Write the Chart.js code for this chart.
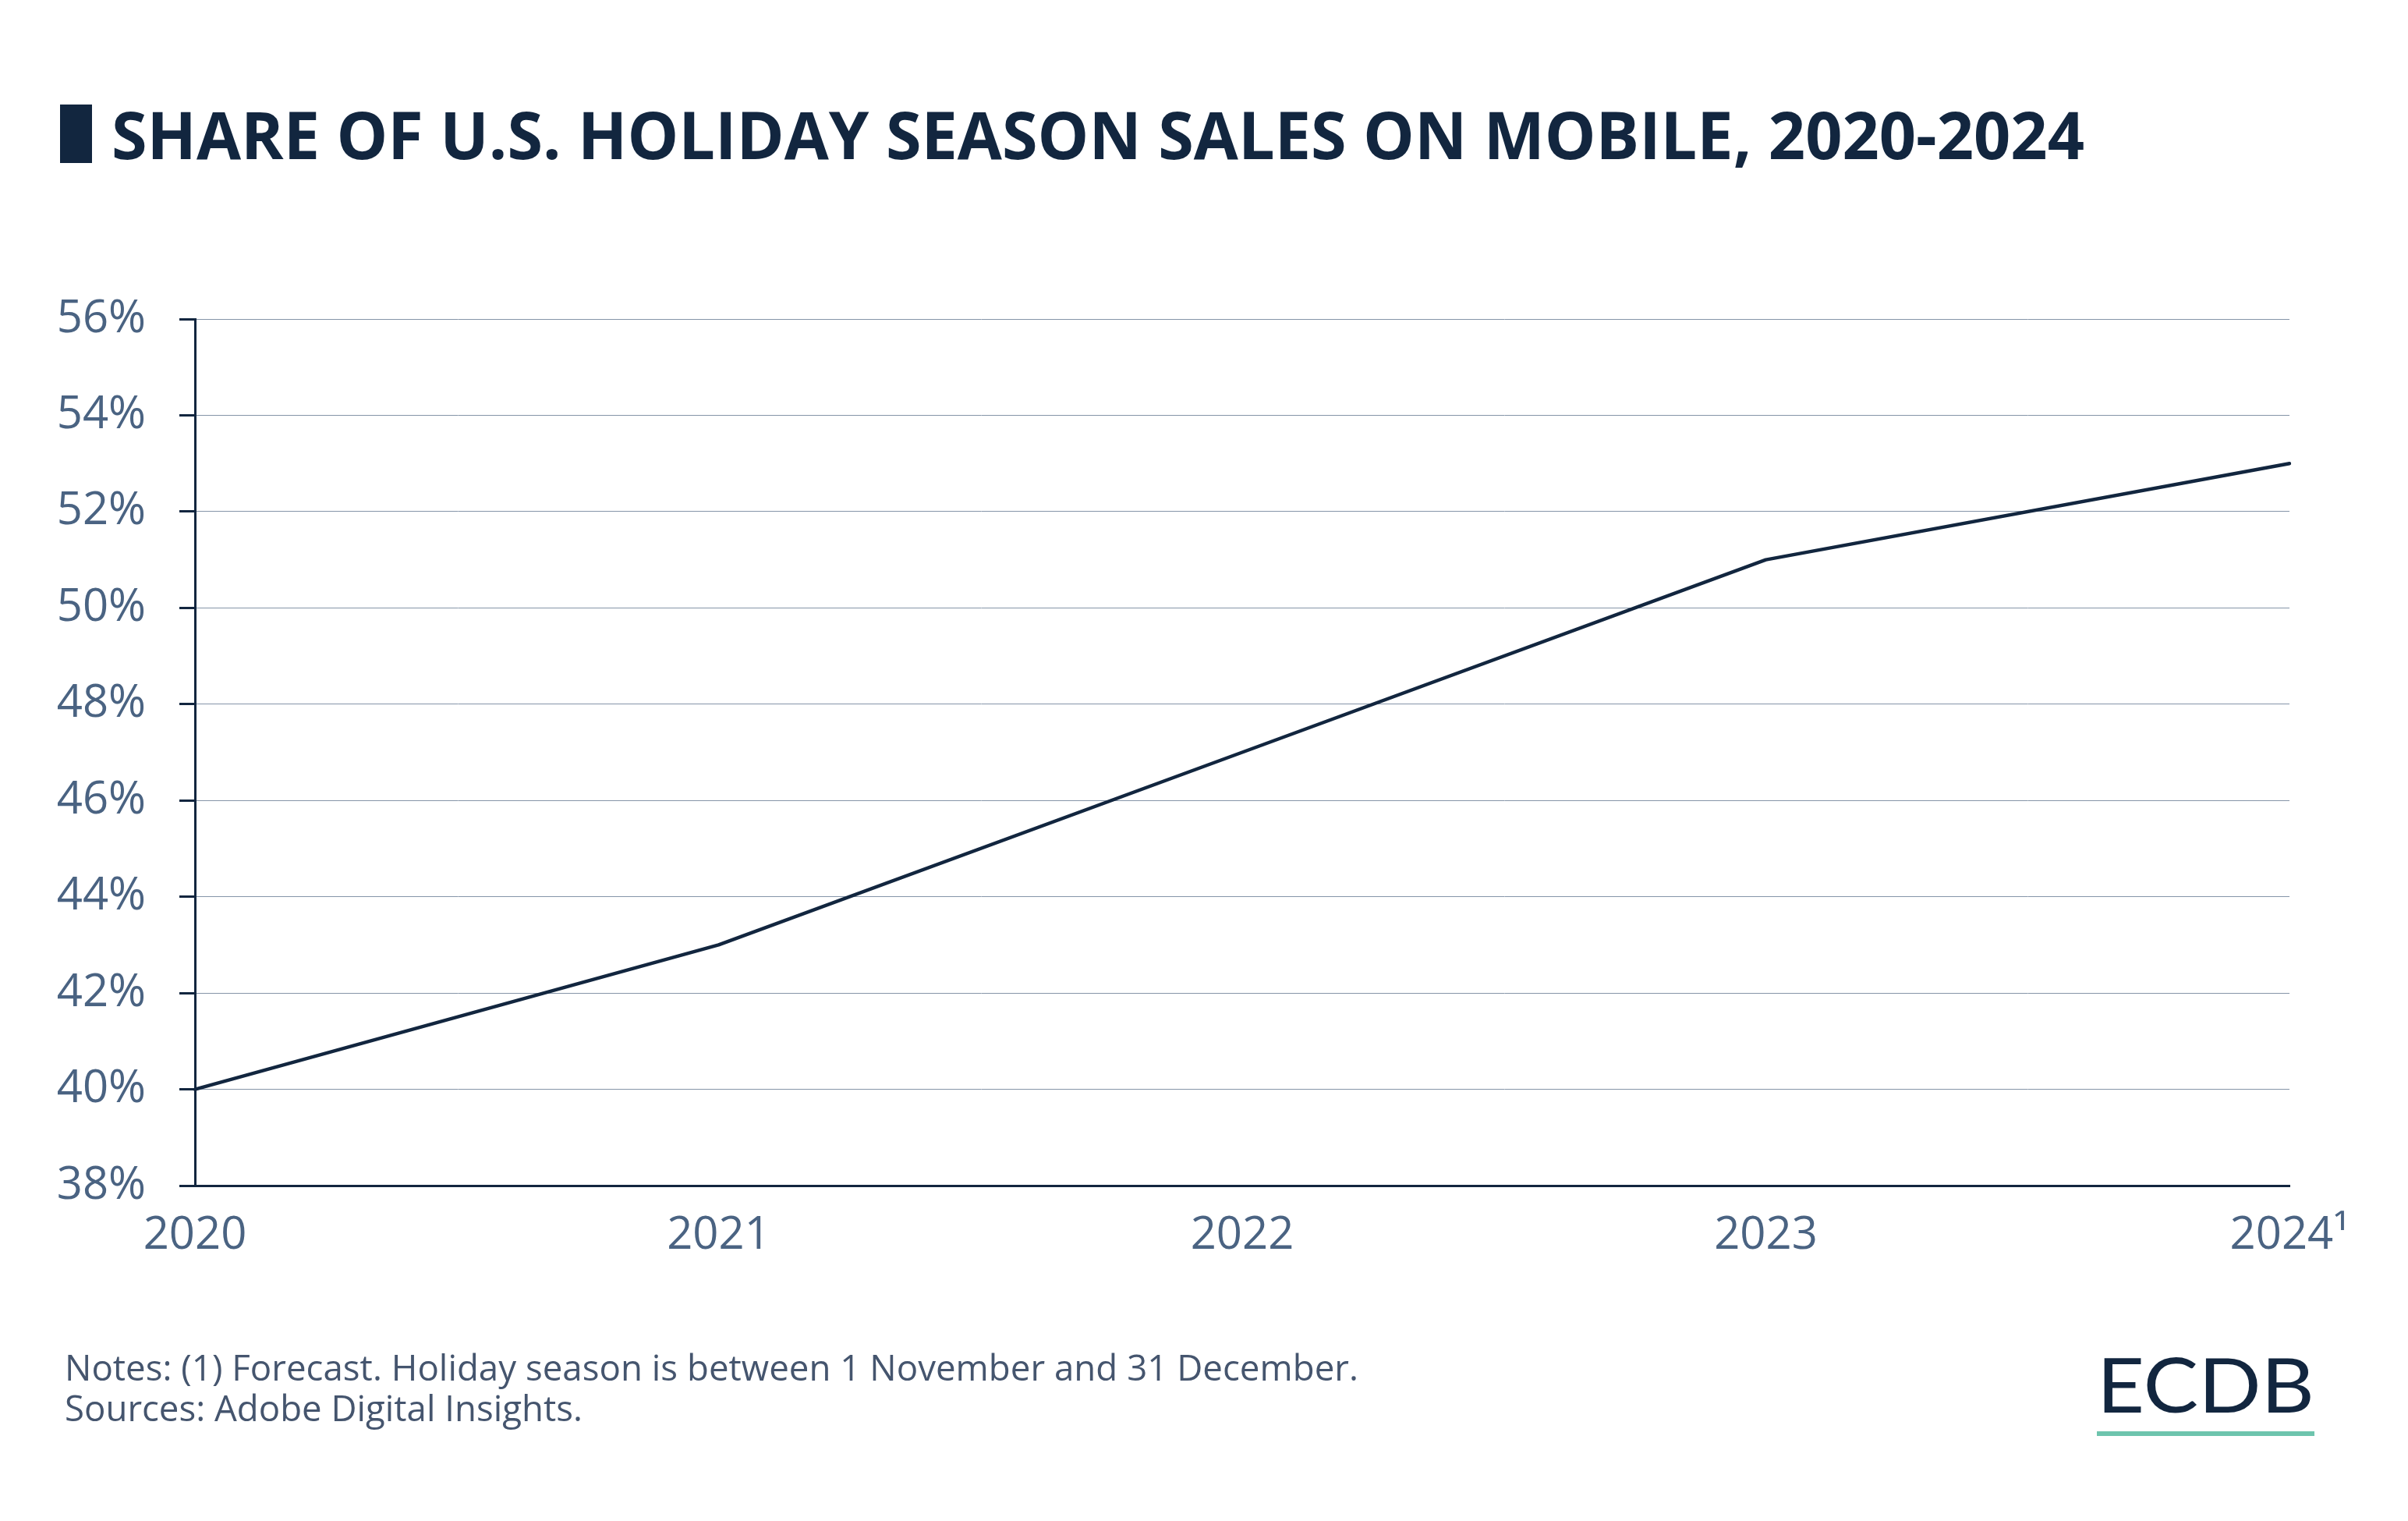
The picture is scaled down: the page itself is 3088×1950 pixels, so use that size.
<!DOCTYPE html>
<html>
<head>
<meta charset="utf-8">
<title>Share of U.S. Holiday Season Sales on Mobile, 2020-2024</title>
<script src="https://cdn.jsdelivr.net/npm/chart.js@4"></script>
<style>
  html, body { margin: 0; padding: 0; background: #ffffff; }
  #wrap { position: relative; width: 3088px; height: 1950px; overflow: hidden; }
  #chart { position: absolute; left: 0; top: 0; }
  #overlay { position: absolute; left: 0; top: 0; pointer-events: none; }
</style>
</head>
<body>
<div id="wrap">
  <canvas id="chart" width="3088" height="1950"></canvas>
  <svg id="overlay" width="3088" height="1950" xmlns="http://www.w3.org/2000/svg">
    <!-- title -->
    <rect x="77" y="134" width="41" height="75" fill="#12263f"></rect>
    <text x="143" y="204" font-family="'Open Sans', sans-serif" font-weight="700" font-size="84"
          fill="#12263f" textLength="2530" lengthAdjust="spacingAndGlyphs">SHARE OF U.S. HOLIDAY SEASON SALES ON MOBILE, 2020-2024</text>
    <!-- notes -->
    <text x="83" y="1770" font-family="'Open Sans', sans-serif" font-size="45.6" fill="#45556e"
          textLength="1659" lengthAdjust="spacingAndGlyphs">Notes: (1) Forecast. Holiday season is between 1 November and 31 December.</text>
    <text x="83" y="1822" font-family="'Open Sans', sans-serif" font-size="45.6" fill="#45556e">Sources: Adobe Digital Insights.</text>
    <!-- logo -->
    <text x="2689" y="1811" font-family="Lato, sans-serif" font-size="96" fill="#12263f"
          textLength="279" lengthAdjust="spacingAndGlyphs">ECDB</text>
    <rect x="2689" y="1835" width="279" height="6" fill="#6ec4ad"></rect>
  </svg>
</div>
<script>
// data
const years = ['2020', '2021', '2022', '2023', '2024\u00B9'];
const mobileShare = [40, 43, 47, 51, 53];
const yMin = 38;
const yMax = 56;
const yStep = 2;

const navy = '#12263f';
const tickText = '#4a6382';

new Chart(document.getElementById('chart'), {
  type: 'line',
  data: {
    labels: years,
    datasets: [{
      label: 'Share of sales on mobile',
      data: mobileShare,
      borderColor: navy,
      borderWidth: 4.5,
      borderCapStyle: 'round',
      borderJoinStyle: 'round',
      pointRadius: 0,
      tension: 0,
      fill: false
    }]
  },
  options: {
    responsive: false,
    animation: false,
    devicePixelRatio: 1,
    layout: { padding: { top: 409, right: 152, left: 0, bottom: 0 } },
    plugins: {
      legend: { display: false },
      tooltip: { enabled: false }
    },
    scales: {
      x: {
        offset: false,
        grid: { display: false },
        border: { display: true, color: navy, width: 3 },
        ticks: {
          color: tickText,
          font: { family: 'Open Sans', size: 58 },
          padding: 22,
          maxRotation: 0,
          autoSkip: false
        },
        afterFit: (scale) => { scale.height = 430; }
      },
      y: {
        min: yMin,
        max: yMax,
        grid: {
          color: '#8595a8',
          lineWidth: 1,
          tickColor: navy,
          tickLength: 20,
          tickWidth: 3
        },
        border: { display: true, color: navy, width: 3 },
        ticks: {
          stepSize: yStep,
          color: tickText,
          font: { family: 'Open Sans', size: 58 },
          padding: 43,
          callback: (v) => v + '%'
        },
        afterFit: (scale) => { scale.width = 250; }
      }
    }
  }
});
</script>
</body>
</html>
